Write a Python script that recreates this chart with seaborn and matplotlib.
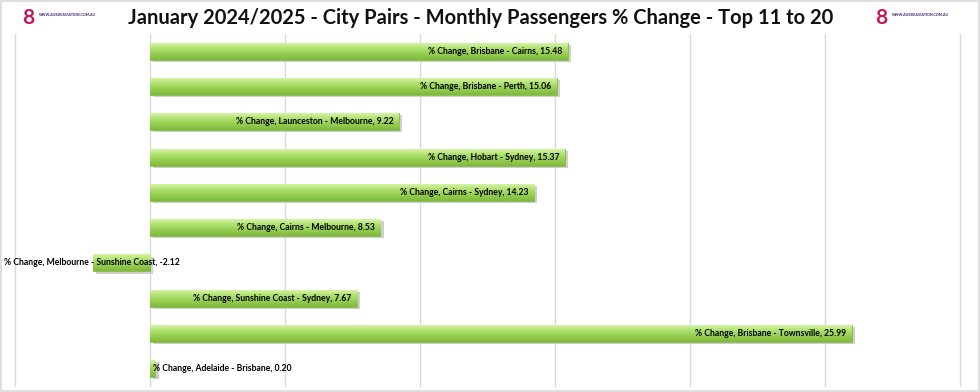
import numpy as np
import pandas as pd
import matplotlib
matplotlib.use("Agg")
import matplotlib.pyplot as plt
import seaborn as sns
from matplotlib.colors import LinearSegmentedColormap

routes = ["Brisbane - Cairns", "Brisbane - Perth", "Launceston - Melbourne",
          "Hobart - Sydney", "Cairns - Sydney", "Cairns - Melbourne",
          "Melbourne - Sunshine Coast", "Sunshine Coast - Sydney",
          "Brisbane - Townsville", "Adelaide - Brisbane"]
pct_change = [15.48, 15.06, 9.22, 15.37, 14.23, 8.53, -2.12, 7.67, 25.99, 0.20]
series_name = "% Change"
title = "January 2024/2025 - City Pairs - Monthly Passengers % Change - Top 11 to 20"

df = pd.DataFrame({"route": routes, "value": pct_change})

sns.set_theme(style="white")
plt.rcParams["font.family"] = ["Lato", "DejaVu Sans"]

fig = plt.figure(figsize=(9.8, 3.92), dpi=100)
ax = fig.add_axes([1.5 / 980, 5.5 / 392, 976.5 / 980, 353 / 392])

sns.barplot(data=df, y="route", x="value", order=routes, orient="h",
            color="#a2d65e", width=0.48, ax=ax, zorder=3,
            edgecolor="#86bd43", linewidth=0.6)

ax.set_xlim(-5.5, 30.67)
ax.set_xticks(np.arange(-5, 31, 5))
ax.grid(axis="x", color="#d9d9d9", linewidth=1, zorder=0)
ax.set_axisbelow(True)
for s in ax.spines.values():
    s.set_visible(False)
ax.set_xlabel("")
ax.set_ylabel("")
ax.set_xticklabels([])
ax.set_yticklabels([])
ax.tick_params(left=False, bottom=False)

# gradient shading over bars
cmap = LinearSegmentedColormap.from_list(
    "g", ["#d6f3a6", "#b6e57a", "#a0d65c", "#8fc84a", "#7fb83f"])
grad = np.linspace(0, 1, 64).reshape(-1, 1)
for p in ax.patches:
    x0, y0 = p.get_x(), p.get_y()
    w, h = p.get_width(), p.get_height()
    xa, xb = min(x0, x0 + w), max(x0, x0 + w)
    ax.add_patch(plt.Rectangle((xa + 0.12, y0 + 0.06), xb - xa, h,
                               color="#cfcfcf", zorder=2, lw=0))
    ax.imshow(grad, cmap=cmap, aspect="auto",
              extent=(xa, xb, y0 + h, y0), zorder=4, interpolation="bicubic")

ax.set_ylim(len(routes) - 0.5, -0.5)

# labels
for i, (r, v) in enumerate(zip(routes, pct_change)):
    txt = f"{series_name}, {r}, {v:.2f}"
    kw = dict(va="center", fontsize=6.2, fontweight="bold", color="black",
              zorder=6, clip_on=False)
    if v < 0:
        ax.text(-5.42, i, txt, ha="left", **kw)
    elif v < 5:
        ax.text(v - 0.1, i, txt, ha="left", **kw)
    else:
        ax.text(v - 0.2, i, txt, ha="right", **kw)

fig.text(0.49, 0.955, title, ha="center", va="center", fontsize=14.5,
         fontweight="bold", color="#111111")

# logos as text
for xl in (0.023, 0.893):
    fig.text(xl, 0.955, "8", ha="left", va="center", fontsize=15,
             fontweight="bold", color="#c2185b")
    fig.text(xl + 0.017, 0.962, "WWW.AUSSIEAVIATION.COM.AU", ha="left",
             va="center", fontsize=2.6, fontweight="bold", color="#3b1f6e")

fig.patches.append(plt.Rectangle((0.001, 0.002), 0.998, 0.996,
                                 transform=fig.transFigure, fill=False,
                                 edgecolor="#d9d9d9", linewidth=1.2))

fig.savefig("out.png", dpi=100)
